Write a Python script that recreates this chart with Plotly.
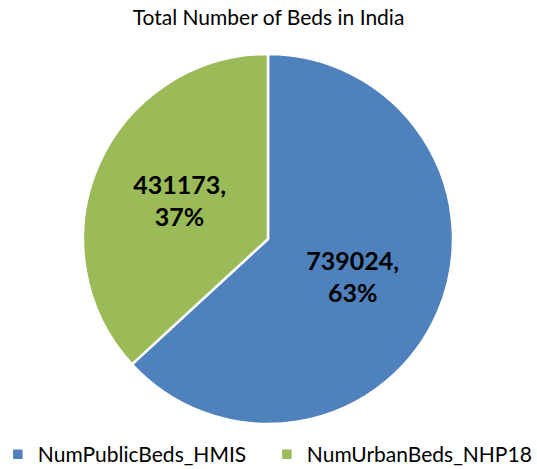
import plotly.graph_objects as go

labels = ["NumPublicBeds_HMIS", "NumUrbanBeds_NHP18"]
values = [739024, 431173]
colors = ["#4F81BD", "#9BBB59"]
title = "Total Number of Beds in India"

FONT = "Lato, Noto Sans, sans-serif"

fig = go.Figure(go.Pie(
    labels=labels,
    values=values,
    sort=False,
    direction="clockwise",
    rotation=0,
    marker=dict(colors=colors, line=dict(color="white", width=2.5)),
    texttemplate="%{value:.0f},<br>%{percent:.0%}",
    textposition="inside",
    insidetextorientation="horizontal",
    textfont=dict(family=FONT, size=25, color="black", weight="bold"),
    domain=dict(x=[83/537, 453/537], y=[1-424/469, 1-54/469]),
    hoverinfo="label+value+percent",
))

fig.update_layout(
    width=537, height=469,
    margin=dict(l=0, r=0, t=0, b=0, autoexpand=False),
    paper_bgcolor="white",
    font=dict(family=FONT, color="black"),
    title=dict(text=title, x=0.5, xanchor="center", y=1-18/469, yanchor="middle",
               font=dict(size=21, color="black")),
    legend=dict(orientation="h", x=-0.004, xanchor="left", y=-6/469, yanchor="bottom",
                bgcolor="rgba(0,0,0,0)",
                font=dict(size=21), itemwidth=30, tracegroupgap=0,
                entrywidth=224, entrywidthmode="pixels"),
)

fig.write_html("out.html", config={"displayModeBar": False},
               post_script="document.body.style.margin='0';document.body.style.padding='0';")
